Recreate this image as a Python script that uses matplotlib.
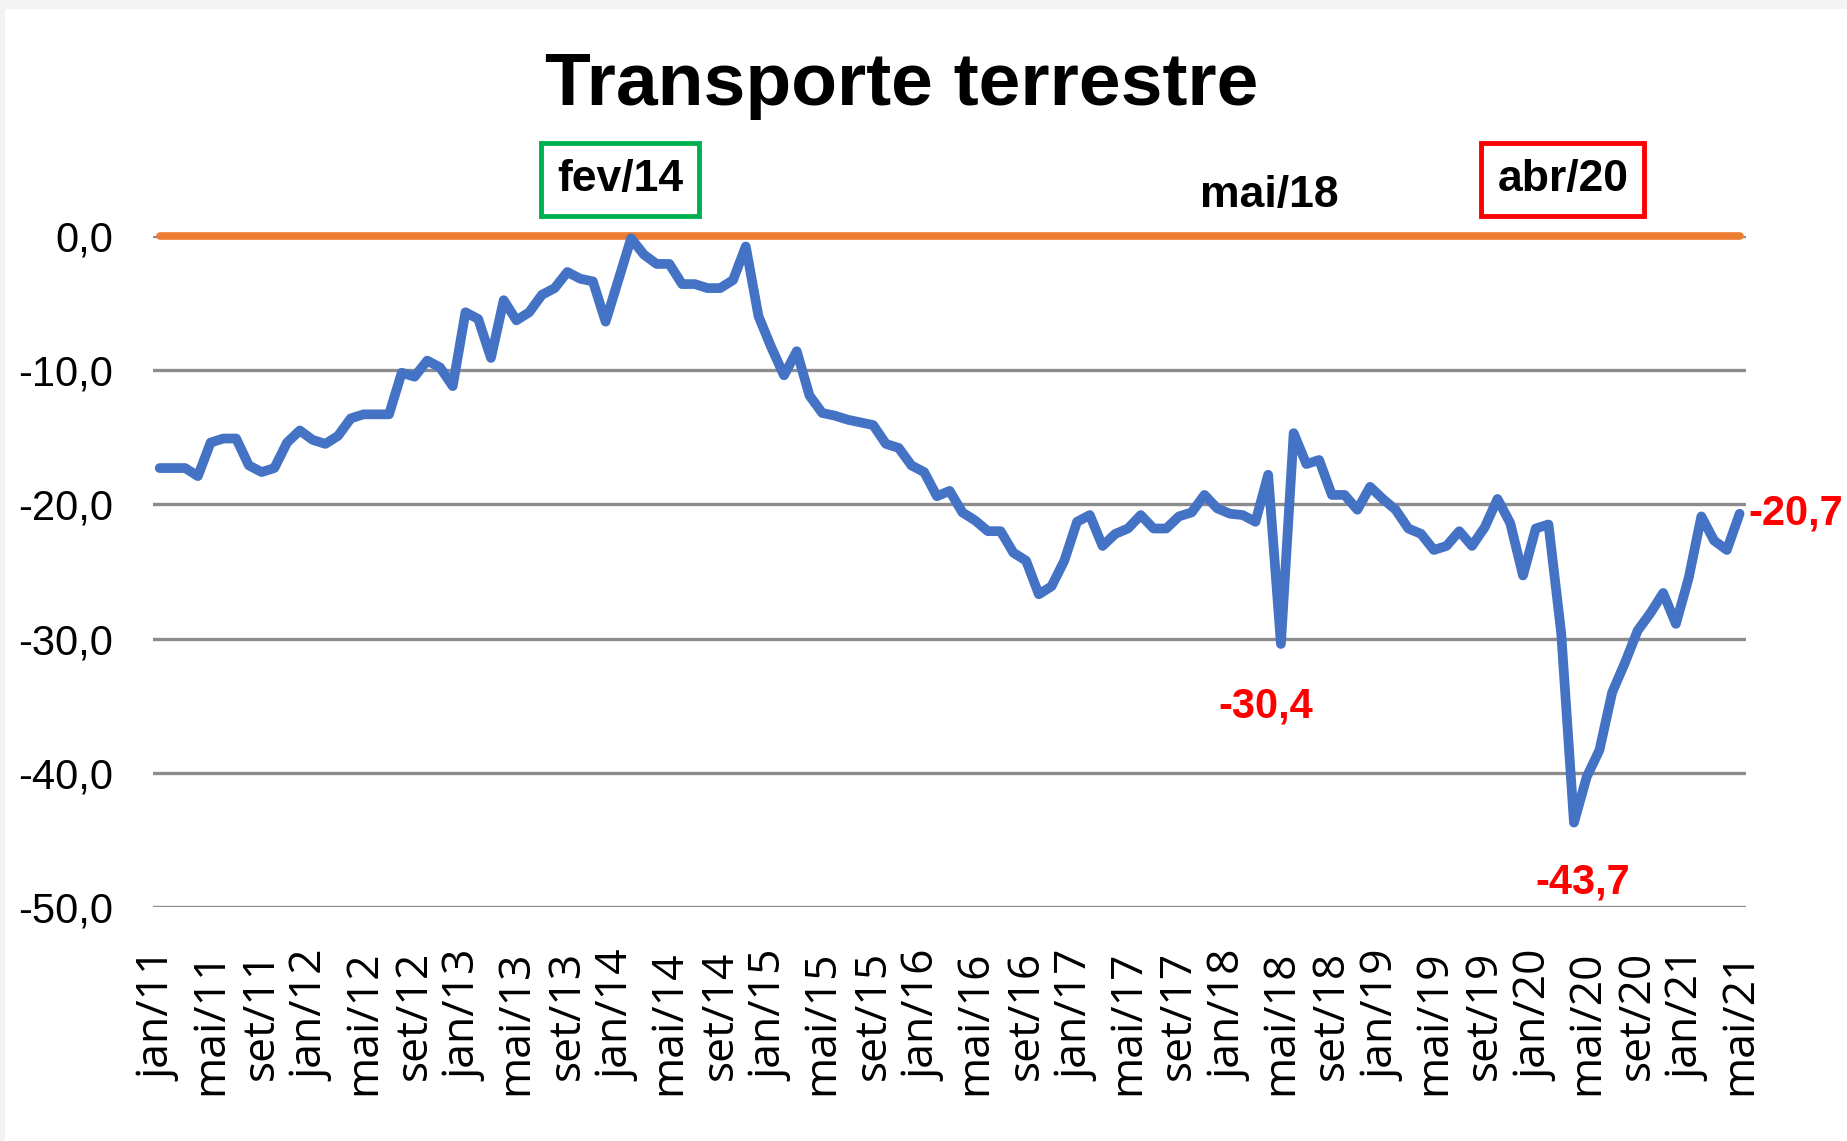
import matplotlib
matplotlib.use('Agg')
from matplotlib import pyplot as plt
from matplotlib.patches import Rectangle

# condensed font is used where it exists, otherwise plain Liberation Sans
fonts = ['Liberation Sans Narrow', 'Liberation Sans']

# monthly values, jan/11 .. mai/21
values = [
    -17.3, -17.3, -17.3, -17.9, -15.4, -15.1, -15.1, -17.1, -17.6, -17.3, -15.4, -14.5,
    -15.2, -15.5, -14.9, -13.6, -13.3, -13.3, -13.3, -10.2, -10.5, -9.3, -9.8, -11.2,
    -5.7, -6.2, -9.1, -4.8, -6.3, -5.7, -4.4, -3.9, -2.7, -3.2, -3.4, -6.4,
    -3.3, -0.2, -1.4, -2.1, -2.1, -3.6, -3.6, -3.9, -3.9, -3.3, -0.8, -6.0,
    -8.3, -10.4, -8.6, -11.9, -13.2, -13.4, -13.7, -13.9, -14.1, -15.5, -15.8, -17.1,
    -17.6, -19.4, -19.0, -20.6, -21.2, -22.0, -22.0, -23.6, -24.2, -26.7, -26.1, -24.2,
    -21.3, -20.8, -23.1, -22.2, -21.8, -20.8, -21.8, -21.8, -20.9, -20.6, -19.3, -20.3,
    -20.7, -20.8, -21.3, -17.8, -30.4, -14.7, -17.0, -16.7, -19.3, -19.3, -20.4, -18.7,
    -19.6, -20.4, -21.8, -22.2, -23.4, -23.1, -22.0, -23.1, -21.7, -19.6, -21.4, -25.3,
    -21.8, -21.5, -29.6, -43.7, -40.3, -38.3, -34.0, -31.8, -29.4, -28.1, -26.6, -28.9,
    -25.5, -20.9, -22.7, -23.4, -20.7,
]
x = list(range(len(values)))

# reference line at zero
reference = [0.0] * len(values)

# every fourth month is labelled
tick_labels = [
    'jan/11', 'mai/11', 'set/11', 'jan/12', 'mai/12', 'set/12', 'jan/13', 'mai/13',
    'set/13', 'jan/14', 'mai/14', 'set/14', 'jan/15', 'mai/15', 'set/15', 'jan/16',
    'mai/16', 'set/16', 'jan/17', 'mai/17', 'set/17', 'jan/18', 'mai/18', 'set/18',
    'jan/19', 'mai/19', 'set/19', 'jan/20', 'mai/20', 'set/20', 'jan/21', 'mai/21',
]
tick_pos = list(range(0, len(values), 4))

y_ticks = [0, -10, -20, -30, -40, -50]
y_tick_labels = ['0,0', '-10,0', '-20,0', '-30,0', '-40,0', '-50,0']

# highlighted months (index, text, box colour, vertical offset in points)
highlights = [(37, 'fev/14', '#00B050', 32), (88, 'mai/18', None, 21), (111, 'abr/20', '#FF0000', 32)]

# red value labels (index, text, offset in points, alignment)
value_labels = [
    (88, '-30,4', (-11, -45), 'center'),
    (111, '-43,7', (6, -43), 'center'),
    (124, '-20,7', (6, 0), 'left'),
]

fig = plt.figure(figsize=(18.47, 11.41), dpi=100, facecolor='#f3f3f3')
# white page with a thin grey frame at top and left, as in the original
fig.patches.append(Rectangle((5 / 1847, 0), 1, 1 - 9 / 1141, transform=fig.transFigure,
                             fc='white', ec='none', zorder=-10))

ax = fig.add_axes([0.0830, 0.2049, 0.8623, 0.5885])
ax.set_facecolor('none')
ax.set_zorder(1)

for yt in y_ticks:
    ax.axhline(yt, color='#8c8c8c', lw=2.4, zorder=1)

ax.plot(x, reference, color='#ED7D31', lw=5.5, solid_capstyle='round', zorder=2, clip_on=False)
ax.plot(x, values, color='#4472C4', lw=7, solid_capstyle='round', solid_joinstyle='round',
        zorder=3, clip_on=False)

ax.set_xlim(-0.5, len(values) - 0.5)
ax.set_ylim(-50, 0)
for s in ax.spines.values():
    s.set_visible(False)

ax.set_yticks(y_ticks)
ax.set_yticklabels(y_tick_labels, fontsize=30, family=fonts)
ax.set_xticks(tick_pos)
ax.set_xticklabels(tick_labels, rotation=90, fontsize=32, family='Open Sans', ha='center', va='top')
ax.tick_params(axis='y', length=0, pad=29)
ax.tick_params(axis='x', length=0, pad=31)

# month markers above the plot
for idx, txt, col, dy in highlights:
    box = None
    if col is not None:
        box = dict(boxstyle='square,pad=0.36', fc='white', ec=col, lw=3.5)
    ax.annotate(txt, xy=(idx, 1), xycoords=('data', 'axes fraction'),
                xytext=(-8, dy), textcoords='offset points', ha='center', va='baseline',
                fontsize=32, fontweight='bold', family=fonts, bbox=box)

# value labels
for idx, txt, off, ha in value_labels:
    ax.annotate(txt, xy=(idx, values[idx]), xytext=off, textcoords='offset points',
                ha=ha, va='center', fontsize=30, fontweight='bold', color='#FF0000',
                family=fonts, annotation_clip=False)

fig.text(0.488, 0.908, 'Transporte terrestre', ha='center', va='baseline',
         fontsize=54, fontweight='bold', family=fonts)

fig.savefig('out.png', dpi=100, facecolor=fig.get_facecolor())
